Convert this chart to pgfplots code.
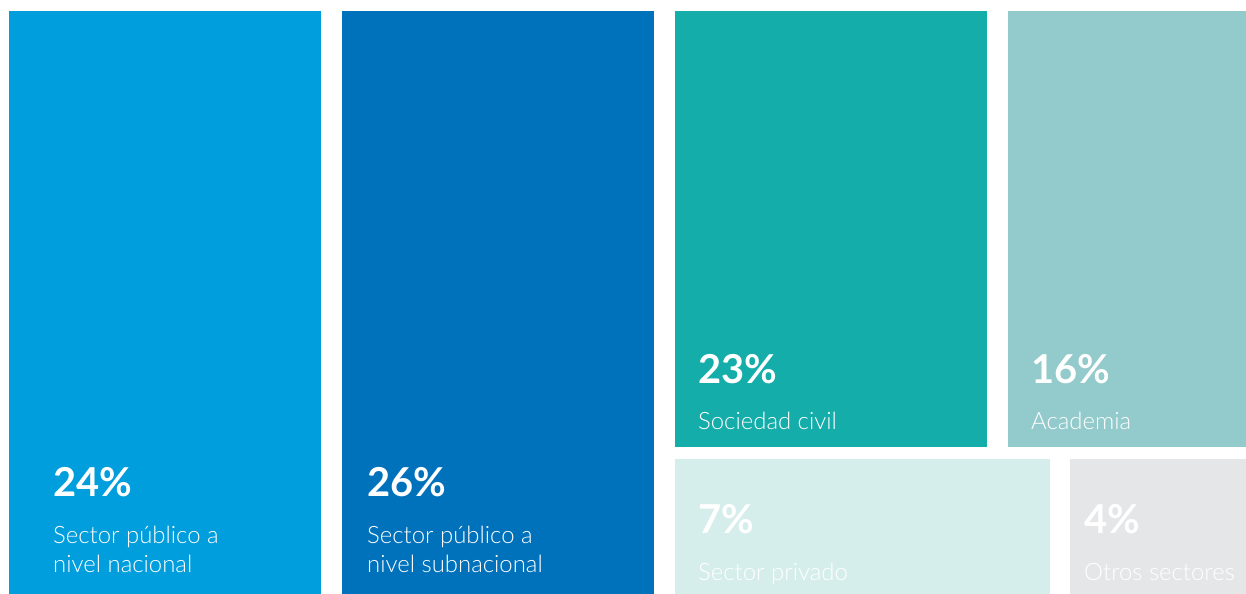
\documentclass[border=0pt]{standalone}
\usepackage{fontspec}
\setmainfont{Lato}
\newfontfamily\lightfont{Lato}[UprightFont=* Light]
\usepackage{pgfplots}
\pgfplotsset{compat=1.18}

\definecolor{cNac}{RGB}{0,158,220}
\definecolor{cSub}{RGB}{0,114,187}
\definecolor{cCiv}{RGB}{20,173,170}
\definecolor{cAca}{RGB}{147,202,203}
\definecolor{cPri}{RGB}{214,238,235}
\definecolor{cOtr}{RGB}{229,230,232}

\begin{document}
\begin{tikzpicture}[
    pct/.style={font=\fontsize{40}{44}\selectfont\bfseries, text=white, anchor=base west, inner sep=0pt},
    lab/.style={font=\fontsize{24}{29}\selectfont\lightfont, text=white, anchor=base west, inner sep=0pt},
    ]
    \path (0,0) rectangle (1246bp,594bp);
    \begin{axis}[
        at={(0,0)}, anchor=south west,
        scale only axis,
        width=1246bp, height=594bp,
        xmin=0, xmax=1246, ymin=0, ymax=594,
        y dir=reverse,
        hide axis,
        clip=false,
        ]
        % treemap tiles (pixel coordinates)
        \addplot[fill=cNac, draw=none] coordinates {(9,11) (321,11) (321,594) (9,594)} -- cycle;
        \addplot[fill=cSub, draw=none] coordinates {(342,11) (654,11) (654,594) (342,594)} -- cycle;
        \addplot[fill=cCiv, draw=none] coordinates {(675,11) (987,11) (987,447) (675,447)} -- cycle;
        \addplot[fill=cAca, draw=none] coordinates {(1008,11) (1246,11) (1246,447) (1008,447)} -- cycle;
        \addplot[fill=cPri, draw=none] coordinates {(675,459) (1050,459) (1050,594) (675,594)} -- cycle;
        \addplot[fill=cOtr, draw=none] coordinates {(1070,459) (1246,459) (1246,594) (1070,594)} -- cycle;

        \node[pct] at (axis cs:53,496) {24\%};
        \node[lab] at (axis cs:53,543) {Sector público a};
        \node[lab] at (axis cs:53,572) {nivel nacional};
        \node[pct] at (axis cs:367,496) {26\%};
        \node[lab] at (axis cs:367,543) {Sector público a};
        \node[lab] at (axis cs:367,572) {nivel subnacional};
        \node[pct] at (axis cs:698,383) {23\%};
        \node[lab] at (axis cs:698,429) {Sociedad civil};
        \node[pct] at (axis cs:1031,383) {16\%};
        \node[lab] at (axis cs:1031,429) {Academia};
        \node[pct] at (axis cs:698,533) {7\%};
        \node[lab] at (axis cs:698,580) {Sector privado};
        \node[pct] at (axis cs:1084,533) {4\%};
        \node[lab] at (axis cs:1084,580) {Otros sectores};
    \end{axis}
\end{tikzpicture}
\end{document}
